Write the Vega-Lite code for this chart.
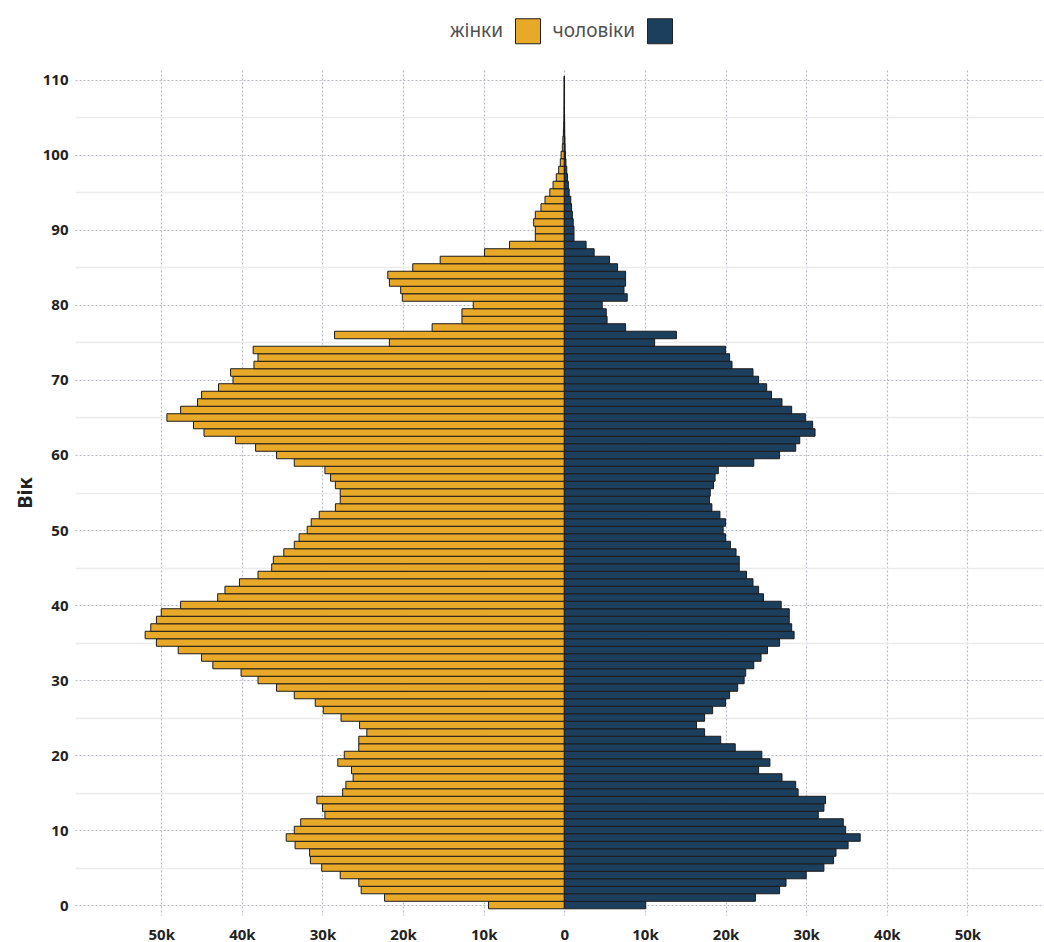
{
  "$schema": "https://vega.github.io/schema/vega-lite/v6.json",
  "width": 969,
  "height": 845,
  "autosize": {"type": "none"},
  "padding": {"left": 75, "top": 70, "right": 0, "bottom": 27},
  "background": "white",
  "config": {"view": {"stroke": null}, "font": "Noto Sans"},
  "data": {"values": [
    {"age":0,"sex":"жінки","population":-9400},{"age":0,"sex":"чоловіки","population":10100},
    {"age":1,"sex":"жінки","population":-22300},{"age":1,"sex":"чоловіки","population":23700},
    {"age":2,"sex":"жінки","population":-25200},{"age":2,"sex":"чоловіки","population":26700},
    {"age":3,"sex":"жінки","population":-25500},{"age":3,"sex":"чоловіки","population":27500},
    {"age":4,"sex":"жінки","population":-27800},{"age":4,"sex":"чоловіки","population":30000},
    {"age":5,"sex":"жінки","population":-30100},{"age":5,"sex":"чоловіки","population":32200},
    {"age":6,"sex":"жінки","population":-31500},{"age":6,"sex":"чоловіки","population":33400},
    {"age":7,"sex":"жінки","population":-31600},{"age":7,"sex":"чоловіки","population":33700},
    {"age":8,"sex":"жінки","population":-33400},{"age":8,"sex":"чоловіки","population":35200},
    {"age":9,"sex":"жінки","population":-34500},{"age":9,"sex":"чоловіки","population":36700},
    {"age":10,"sex":"жінки","population":-33500},{"age":10,"sex":"чоловіки","population":34900},
    {"age":11,"sex":"жінки","population":-32700},{"age":11,"sex":"чоловіки","population":34600},
    {"age":12,"sex":"жінки","population":-29700},{"age":12,"sex":"чоловіки","population":31500},
    {"age":13,"sex":"жінки","population":-30000},{"age":13,"sex":"чоловіки","population":32200},
    {"age":14,"sex":"жінки","population":-30700},{"age":14,"sex":"чоловіки","population":32400},
    {"age":15,"sex":"жінки","population":-27500},{"age":15,"sex":"чоловіки","population":29000},
    {"age":16,"sex":"жінки","population":-27100},{"age":16,"sex":"чоловіки","population":28700},
    {"age":17,"sex":"жінки","population":-26200},{"age":17,"sex":"чоловіки","population":27000},
    {"age":18,"sex":"жінки","population":-26400},{"age":18,"sex":"чоловіки","population":24100},
    {"age":19,"sex":"жінки","population":-28100},{"age":19,"sex":"чоловіки","population":25500},
    {"age":20,"sex":"жінки","population":-27300},{"age":20,"sex":"чоловіки","population":24500},
    {"age":21,"sex":"жінки","population":-25500},{"age":21,"sex":"чоловіки","population":21200},
    {"age":22,"sex":"жінки","population":-25500},{"age":22,"sex":"чоловіки","population":19400},
    {"age":23,"sex":"жінки","population":-24500},{"age":23,"sex":"чоловіки","population":17400},
    {"age":24,"sex":"жінки","population":-25400},{"age":24,"sex":"чоловіки","population":16400},
    {"age":25,"sex":"жінки","population":-27700},{"age":25,"sex":"чоловіки","population":17400},
    {"age":26,"sex":"жінки","population":-29900},{"age":26,"sex":"чоловіки","population":18400},
    {"age":27,"sex":"жінки","population":-30900},{"age":27,"sex":"чоловіки","population":20000},
    {"age":28,"sex":"жінки","population":-33500},{"age":28,"sex":"чоловіки","population":20500},
    {"age":29,"sex":"жінки","population":-35700},{"age":29,"sex":"чоловіки","population":21500},
    {"age":30,"sex":"жінки","population":-38000},{"age":30,"sex":"чоловіки","population":22300},
    {"age":31,"sex":"жінки","population":-40100},{"age":31,"sex":"чоловіки","population":22500},
    {"age":32,"sex":"жінки","population":-43600},{"age":32,"sex":"чоловіки","population":23500},
    {"age":33,"sex":"жінки","population":-45000},{"age":33,"sex":"чоловіки","population":24400},
    {"age":34,"sex":"жінки","population":-47900},{"age":34,"sex":"чоловіки","population":25200},
    {"age":35,"sex":"жінки","population":-50600},{"age":35,"sex":"чоловіки","population":26700},
    {"age":36,"sex":"жінки","population":-52000},{"age":36,"sex":"чоловіки","population":28500},
    {"age":37,"sex":"жінки","population":-51300},{"age":37,"sex":"чоловіки","population":28200},
    {"age":38,"sex":"жінки","population":-50600},{"age":38,"sex":"чоловіки","population":27900},
    {"age":39,"sex":"жінки","population":-50000},{"age":39,"sex":"чоловіки","population":27900},
    {"age":40,"sex":"жінки","population":-47600},{"age":40,"sex":"чоловіки","population":26900},
    {"age":41,"sex":"жінки","population":-43000},{"age":41,"sex":"чоловіки","population":24700},
    {"age":42,"sex":"жінки","population":-42100},{"age":42,"sex":"чоловіки","population":24100},
    {"age":43,"sex":"жінки","population":-40300},{"age":43,"sex":"чоловіки","population":23400},
    {"age":44,"sex":"жінки","population":-38000},{"age":44,"sex":"чоловіки","population":22600},
    {"age":45,"sex":"жінки","population":-36300},{"age":45,"sex":"чоловіки","population":21700},
    {"age":46,"sex":"жінки","population":-36100},{"age":46,"sex":"чоловіки","population":21700},
    {"age":47,"sex":"жінки","population":-34800},{"age":47,"sex":"чоловіки","population":21300},
    {"age":48,"sex":"жінки","population":-33500},{"age":48,"sex":"чоловіки","population":20600},
    {"age":49,"sex":"жінки","population":-32900},{"age":49,"sex":"чоловіки","population":20000},
    {"age":50,"sex":"жінки","population":-31900},{"age":50,"sex":"чоловіки","population":19700},
    {"age":51,"sex":"жінки","population":-31400},{"age":51,"sex":"чоловіки","population":20000},
    {"age":52,"sex":"жінки","population":-30400},{"age":52,"sex":"чоловіки","population":19300},
    {"age":53,"sex":"жінки","population":-28400},{"age":53,"sex":"чоловіки","population":18300},
    {"age":54,"sex":"жінки","population":-27800},{"age":54,"sex":"чоловіки","population":18000},
    {"age":55,"sex":"жінки","population":-27800},{"age":55,"sex":"чоловіки","population":18100},
    {"age":56,"sex":"жінки","population":-28400},{"age":56,"sex":"чоловіки","population":18500},
    {"age":57,"sex":"жінки","population":-29000},{"age":57,"sex":"чоловіки","population":18700},
    {"age":58,"sex":"жінки","population":-29700},{"age":58,"sex":"чоловіки","population":19100},
    {"age":59,"sex":"жінки","population":-33500},{"age":59,"sex":"чоловіки","population":23500},
    {"age":60,"sex":"жінки","population":-35700},{"age":60,"sex":"чоловіки","population":26700},
    {"age":61,"sex":"жінки","population":-38300},{"age":61,"sex":"чоловіки","population":28700},
    {"age":62,"sex":"жінки","population":-40800},{"age":62,"sex":"чоловіки","population":29200},
    {"age":63,"sex":"жінки","population":-44700},{"age":63,"sex":"чоловіки","population":31100},
    {"age":64,"sex":"жінки","population":-46000},{"age":64,"sex":"чоловіки","population":30800},
    {"age":65,"sex":"жінки","population":-49300},{"age":65,"sex":"чоловіки","population":29900},
    {"age":66,"sex":"жінки","population":-47600},{"age":66,"sex":"чоловіки","population":28200},
    {"age":67,"sex":"жінки","population":-45500},{"age":67,"sex":"чоловіки","population":27000},
    {"age":68,"sex":"жінки","population":-45000},{"age":68,"sex":"чоловіки","population":25700},
    {"age":69,"sex":"жінки","population":-42900},{"age":69,"sex":"чоловіки","population":25100},
    {"age":70,"sex":"жінки","population":-41100},{"age":70,"sex":"чоловіки","population":24100},
    {"age":71,"sex":"жінки","population":-41400},{"age":71,"sex":"чоловіки","population":23400},
    {"age":72,"sex":"жінки","population":-38500},{"age":72,"sex":"чоловіки","population":20800},
    {"age":73,"sex":"жінки","population":-38000},{"age":73,"sex":"чоловіки","population":20500},
    {"age":74,"sex":"жінки","population":-38600},{"age":74,"sex":"чоловіки","population":20000},
    {"age":75,"sex":"жінки","population":-21700},{"age":75,"sex":"чоловіки","population":11200},
    {"age":76,"sex":"жінки","population":-28500},{"age":76,"sex":"чоловіки","population":13900},
    {"age":77,"sex":"жінки","population":-16400},{"age":77,"sex":"чоловіки","population":7600},
    {"age":78,"sex":"жінки","population":-12700},{"age":78,"sex":"чоловіки","population":5300},
    {"age":79,"sex":"жінки","population":-12700},{"age":79,"sex":"чоловіки","population":5200},
    {"age":80,"sex":"жінки","population":-11300},{"age":80,"sex":"чоловіки","population":4700},
    {"age":81,"sex":"жінки","population":-20100},{"age":81,"sex":"чоловіки","population":7800},
    {"age":82,"sex":"жінки","population":-20300},{"age":82,"sex":"чоловіки","population":7400},
    {"age":83,"sex":"жінки","population":-21700},{"age":83,"sex":"чоловіки","population":7600},
    {"age":84,"sex":"жінки","population":-21900},{"age":84,"sex":"чоловіки","population":7600},
    {"age":85,"sex":"жінки","population":-18800},{"age":85,"sex":"чоловіки","population":6600},
    {"age":86,"sex":"жінки","population":-15400},{"age":86,"sex":"чоловіки","population":5600},
    {"age":87,"sex":"жінки","population":-9900},{"age":87,"sex":"чоловіки","population":3700},
    {"age":88,"sex":"жінки","population":-6800},{"age":88,"sex":"чоловіки","population":2700},
    {"age":89,"sex":"жінки","population":-3600},{"age":89,"sex":"чоловіки","population":1200},
    {"age":90,"sex":"жінки","population":-3600},{"age":90,"sex":"чоловіки","population":1200},
    {"age":91,"sex":"жінки","population":-3800},{"age":91,"sex":"чоловіки","population":1100},
    {"age":92,"sex":"жінки","population":-3600},{"age":92,"sex":"чоловіки","population":1000},
    {"age":93,"sex":"жінки","population":-2900},{"age":93,"sex":"чоловіки","population":900},
    {"age":94,"sex":"жінки","population":-2400},{"age":94,"sex":"чоловіки","population":800},
    {"age":95,"sex":"жінки","population":-1800},{"age":95,"sex":"чоловіки","population":600},
    {"age":96,"sex":"жінки","population":-1400},{"age":96,"sex":"чоловіки","population":500},
    {"age":97,"sex":"жінки","population":-1000},{"age":97,"sex":"чоловіки","population":400},
    {"age":98,"sex":"жінки","population":-700},{"age":98,"sex":"чоловіки","population":300},
    {"age":99,"sex":"жінки","population":-500},{"age":99,"sex":"чоловіки","population":200},
    {"age":100,"sex":"жінки","population":-400},{"age":100,"sex":"чоловіки","population":150},
    {"age":101,"sex":"жінки","population":-250},{"age":101,"sex":"чоловіки","population":100},
    {"age":102,"sex":"жінки","population":-180},{"age":102,"sex":"чоловіки","population":80},
    {"age":103,"sex":"жінки","population":-120},{"age":103,"sex":"чоловіки","population":50},
    {"age":104,"sex":"жінки","population":-80},{"age":104,"sex":"чоловіки","population":40},
    {"age":105,"sex":"жінки","population":-50},{"age":105,"sex":"чоловіки","population":30},
    {"age":106,"sex":"жінки","population":-40},{"age":106,"sex":"чоловіки","population":20},
    {"age":107,"sex":"жінки","population":-30},{"age":107,"sex":"чоловіки","population":15},
    {"age":108,"sex":"жінки","population":-20},{"age":108,"sex":"чоловіки","population":10},
    {"age":109,"sex":"жінки","population":-15},{"age":109,"sex":"чоловіки","population":8},
    {"age":110,"sex":"жінки","population":-10},{"age":110,"sex":"чоловіки","population":5}
  ]},
  "mark": {"type": "bar", "orient": "horizontal", "height": 7.5, "stroke": "#1b1b1b", "strokeWidth": 1},
  "encoding": {
    "y": {
      "field": "age", "type": "quantitative",
      "scale": {"domain": [-1.33, 111.33], "nice": false, "zero": false, "padding": 0},
      "axis": {
        "values": [0,5,10,15,20,25,30,35,40,45,50,55,60,65,70,75,80,85,90,95,100,105,110],
        "labelExpr": "datum.value % 10 === 0 ? datum.label : ''",
        "title": "Вік", "titleFontSize": 20, "titleFontWeight": "bold", "titleColor": "#222", "titlePadding": 7,
        "labelFontSize": 15, "labelFontWeight": "bold", "labelColor": "#222", "labelPadding": 7,
        "domain": false, "ticks": false,
        "grid": true,
        "gridDash": {"condition": {"test": "datum.value % 10 !== 0", "value": []}, "value": [2, 2]},
        "gridColor": {"condition": {"test": "datum.value % 10 !== 0", "value": "#ececec"}, "value": "#b9b9c9"},
        "gridWidth": {"condition": {"test": "datum.value % 10 !== 0", "value": 1.5}, "value": 1.2}
      }
    },
    "x": {
      "field": "population", "type": "quantitative",
      "scale": {"domain": [-60700, 59500], "nice": false},
      "axis": {
        "values": [-50000,-40000,-30000,-20000,-10000,0,10000,20000,30000,40000,50000],
        "labelExpr": "datum.value === 0 ? '0' : format(abs(datum.value) / 1000, 'd') + 'k'",
        "title": null,
        "labelFontSize": 15, "labelFontWeight": "bold", "labelColor": "#222", "labelPadding": 12,
        "domain": false, "ticks": false,
        "grid": true, "gridDash": [2, 2], "gridColor": "#b9b9c9", "gridWidth": 1.2
      }
    },
    "color": {
      "field": "sex", "type": "nominal",
      "scale": {"domain": ["жінки", "чоловіки"], "range": ["#E9A928", "#1D3F5E"]},
      "legend": {
        "title": null, "orient": "none", "legendX": 440, "legendY": -52, "direction": "horizontal",
        "symbolType": "square", "symbolSize": 625, "symbolStrokeColor": "#222", "symbolStrokeWidth": 1, "symbolOpacity": 1,
        "labelFontSize": 19, "labelColor": "#505050", "labelAlign": "right", "labelOffset": -38, "columnPadding": 9
      }
    }
  }
}
